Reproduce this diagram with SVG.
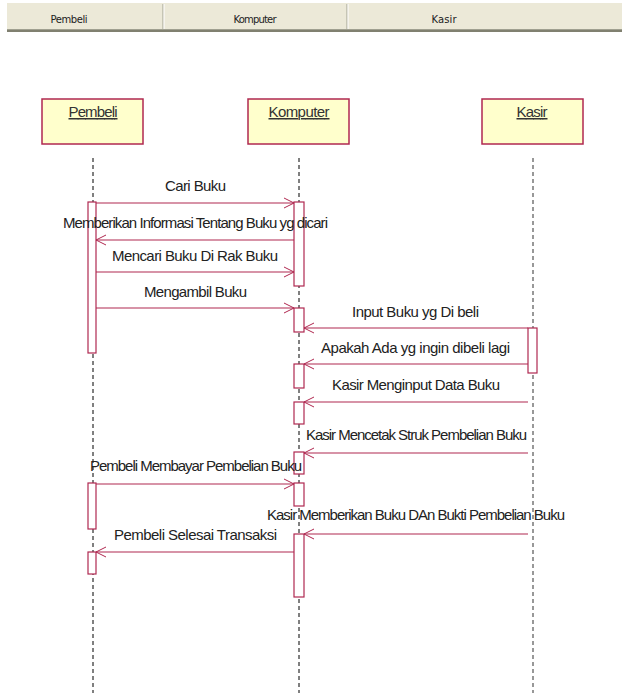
<svg xmlns="http://www.w3.org/2000/svg" width="622" height="693" viewBox="0 0 622 693">
<defs>
<marker id="ah" markerWidth="12" markerHeight="12" refX="11" refY="6" orient="auto" markerUnits="userSpaceOnUse">
<path d="M1,1 L11,6 L1,11" fill="none" stroke="#B02850" stroke-width="1"/>
</marker>
<style>
.hdr{font-family:"DejaVu Sans",Tahoma,sans-serif;font-size:10px;fill:#222;text-anchor:middle}
.box{fill:#FFFFCC;stroke:#B02850;stroke-width:1.5}
.name{font-family:"Liberation Sans",Arial,sans-serif;font-size:15px;fill:#333;text-decoration:underline;text-anchor:middle}
.life{stroke:#000;stroke-width:1;stroke-dasharray:4 3}
.life2{stroke:#777;stroke-width:1.5;stroke-dasharray:4 3}
.act{fill:#fff;stroke:#B02850;stroke-width:1.2}
.msg{stroke:#B02850;stroke-width:1.2;fill:none;marker-end:url(#ah)}
.lbl{font-family:"Liberation Sans",Arial,sans-serif;font-size:15px;fill:#222}
</style>
</defs>
<rect width="622" height="693" fill="#fff"/>
<g id="header">
<rect x="7" y="3" width="615" height="26" fill="#ECE9D8"/>
<line x1="7" y1="29.5" x2="622" y2="29.5" stroke="#A0A090" stroke-width="1"/>
<line x1="7" y1="31" x2="622" y2="31" stroke="#808070" stroke-width="2"/>
<line x1="163" y1="4" x2="163" y2="29" stroke="#A0A090"/>
<line x1="164" y1="4" x2="164" y2="29" stroke="#fff"/>
<line x1="347" y1="4" x2="347" y2="29" stroke="#A0A090"/>
<line x1="348" y1="4" x2="348" y2="29" stroke="#fff"/>
<text class="hdr" x="69" y="23" textLength="37">Pembeli</text>
<text class="hdr" x="255" y="23" textLength="43">Komputer</text>
<text class="hdr" x="444" y="23" textLength="25">Kasir</text>
</g>
<g id="pembeli">
<rect class="box" x="42" y="99" width="101" height="45"/>
<text class="name" x="93" y="117" textLength="49">Pembeli</text>
<line class="life" x1="93" y1="158" x2="93" y2="693"/>
<rect class="act" x="88" y="202" width="8" height="151"/>
<rect class="act" x="88" y="483" width="8" height="46"/>
<rect class="act" x="88" y="552" width="8" height="22"/>
</g>
<g id="komputer">
<rect class="box" x="248" y="99" width="101" height="45"/>
<text class="name" x="299" y="117" textLength="61">Komputer</text>
<line class="life" x1="299" y1="158" x2="299" y2="693"/>
<rect class="act" x="294" y="202" width="10" height="84"/>
<rect class="act" x="294" y="308" width="10" height="24"/>
<rect class="act" x="294" y="364" width="10" height="24"/>
<rect class="act" x="294" y="402" width="10" height="22"/>
<rect class="act" x="294" y="452" width="10" height="22"/>
<rect class="act" x="294" y="483" width="10" height="23"/>
<rect class="act" x="294" y="534" width="10" height="63"/>
</g>
<g id="kasir">
<rect class="box" x="482" y="99" width="101" height="45"/>
<text class="name" x="532" y="117" textLength="31">Kasir</text>
<line class="life2" x1="533" y1="158" x2="533" y2="693"/>
<rect class="act" x="528" y="328" width="9" height="45"/>
</g>
<g id="connectors">
<line class="msg" x1="96" y1="203" x2="294" y2="203"/>
<text class="lbl" x="165" y="191" textLength="61">Cari Buku</text>
<line class="msg" x1="294" y1="240" x2="96" y2="240"/>
<text class="lbl" x="63" y="228" textLength="265">Memberikan Informasi Tentang Buku yg dicari</text>
<line class="msg" x1="96" y1="272" x2="294" y2="272"/>
<text class="lbl" x="112" y="261" textLength="166">Mencari Buku Di Rak Buku</text>
<line class="msg" x1="96" y1="308" x2="294" y2="308"/>
<text class="lbl" x="144" y="297" textLength="103">Mengambil Buku</text>
<line class="msg" x1="528" y1="328" x2="304" y2="328"/>
<text class="lbl" x="352" y="317" textLength="127">Input Buku yg Di beli</text>
<line class="msg" x1="528" y1="364" x2="304" y2="364"/>
<text class="lbl" x="321" y="353" textLength="189">Apakah Ada yg ingin dibeli lagi</text>
<line class="msg" x1="528" y1="402" x2="304" y2="402"/>
<text class="lbl" x="332" y="390" textLength="168">Kasir Menginput Data Buku</text>
<line class="msg" x1="528" y1="453" x2="304" y2="453"/>
<text class="lbl" x="306" y="440" textLength="221">Kasir Mencetak Struk Pembelian Buku</text>
<line class="msg" x1="96" y1="484" x2="294" y2="484"/>
<text class="lbl" x="90" y="471" textLength="212">Pembeli Membayar Pembelian Buku</text>
<line class="msg" x1="528" y1="534" x2="304" y2="534"/>
<text class="lbl" x="267" y="520" textLength="298">Kasir Memberikan Buku DAn Bukti Pembelian Buku</text>
<line class="msg" x1="294" y1="552" x2="96" y2="552"/>
<text class="lbl" x="114" y="540" textLength="163">Pembeli Selesai Transaksi</text>
</g>
</svg>
